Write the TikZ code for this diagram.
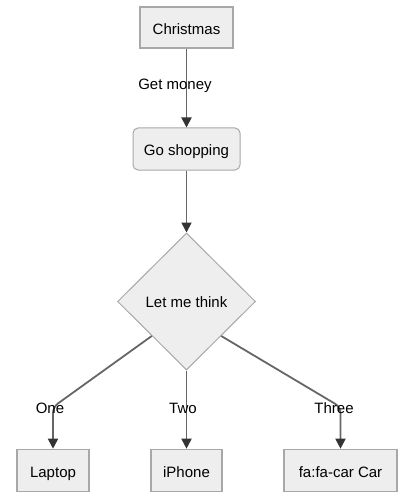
\documentclass[tikz,border=0pt]{standalone}
\usepackage{fontspec}
\setmainfont{Liberation Sans}
\usetikzlibrary{shapes.geometric,arrows.meta}
\definecolor{nodefill}{HTML}{EEEEEE}
\definecolor{nodeline}{HTML}{A8A8A8}
\definecolor{edgeline}{HTML}{666666}
\definecolor{tipcol}{HTML}{333333}
\begin{document}
\begin{tikzpicture}[x=1pt,y=-1pt,
  every node/.style={font=\fontsize{15}{18}\selectfont, text=black},
  box/.style={draw=nodeline, fill=nodefill, line width=1.6pt, inner sep=0pt, minimum height=41pt, text height=14pt, text depth=0pt},
  rbox/.style={box, rounded corners=5pt, line width=1pt},
  decision/.style={diamond, aspect=1, draw=nodeline, fill=nodefill, line width=1pt, inner sep=0pt, minimum width=138pt, minimum height=137pt, text height=12pt, text depth=0pt},
  edge/.style={draw=edgeline, line width=1.8pt, rounded corners=6pt, -{Triangle[length=10pt,width=10pt,fill=tipcol,color=tipcol]}},
  elabel/.style={inner sep=1pt}
]
\useasboundingbox (0,0) rectangle (409,497);
\node[box, minimum width=93pt] (xmas) at (186.5,27.5) {Christmas};
\node[rbox, minimum width=107pt, minimum height=42pt] (shop) at (186.5,149) {Go shopping};
\node[decision] (think) at (186.5,301.5) {Let me think};
\node[box, minimum width=72pt, minimum height=42pt] (laptop) at (53,470.5) {Laptop};
\node[box, minimum width=71pt, minimum height=42pt] (iphone) at (186.5,470.5) {iPhone};
\node[box, minimum width=113pt, minimum height=42pt] (car) at (340.5,470.5) {fa:fa-car Car};

\coordinate (c1) at (53,407);
\coordinate (c3) at (340.5,407);

\draw[edge] (xmas.south) -- (shop.north);
\draw[edge] (shop.south) -- (think.north);
\draw[edge] (think.south west) -- (c1) -- (laptop.north);
\draw[edge] (think.south) -- (iphone.north);
\draw[edge] (think.south east) -- (c3) -- (car.north);

\node[elabel] (l0) at (175,86) {Get money};
\node[elabel] (l1) at (50,408) {One};
\node[elabel] (l2) at (183,408) {Two};
\node[elabel] (l3) at (334,408) {Three};
\end{tikzpicture}
\end{document}
